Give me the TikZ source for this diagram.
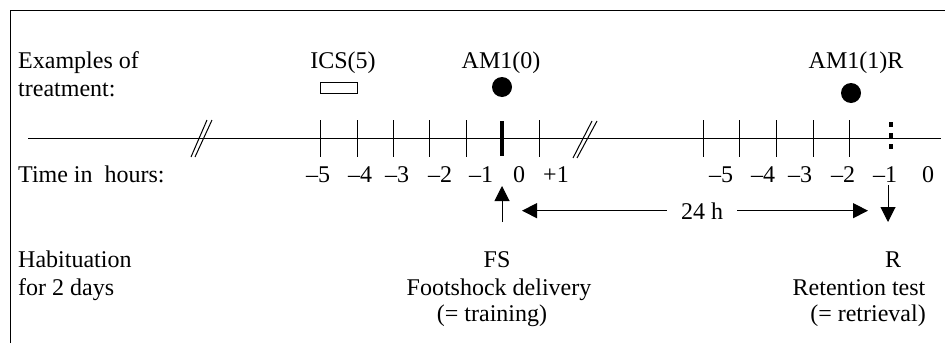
\documentclass[tikz,border=0pt]{standalone}
\usepackage{fontspec}
\setmainfont{Liberation Serif}
\usetikzlibrary{arrows.meta}
\begin{document}
\begin{tikzpicture}[x=1pt,y=-1pt,
  lbl/.style={font=\fontsize{24}{28}\selectfont, inner sep=0pt, anchor=base},
  lbll/.style={lbl, anchor=base west},
  thin/.style={line width=1pt},
  arr/.style={line width=1pt, -{Triangle[length=15pt,width=15pt]}},
  dot/.style={circle, fill=black, inner sep=0pt, minimum size=20pt},
  boxmark/.style={draw, line width=1pt, inner sep=0pt, minimum width=37pt, minimum height=11pt}
]
\useasboundingbox (0,0) rectangle (945,343);
% frame
\draw[thin] (10,343) -- (10,10) -- (945,10);

% left labels
\node[lbll] (ex1) at (18,68) {Examples of};
\node[lbll] (ex2) at (18,96) {treatment:};
\node[lbll] (time) at (18,182) {Time in~ hours:};
\node[lbll] (hab1) at (18,267) {Habituation};
\node[lbll] (hab2) at (18,295) {for 2 days};

% treatments
\node[lbl] (ics) at (343,68) {ICS(5)};
\node[boxmark] (icsbox) at (338.5,88) {};
\node[lbl] (am0) at (501,68) {AM1(0)};
\node[dot] (am0dot) at (502,87) {};
\node[lbl] (am1) at (856,68) {AM1(1)R};
\node[dot] (am1dot) at (851,93) {};

% axis
\coordinate (axl) at (28,138);
\coordinate (axr) at (941,138);
\draw[thin] (axl) -- (axr);
\foreach \x in {320,357,393,429,466,539,703,739,776,813,849}
  \draw[thin] (\x,120) -- (\x,157);
\draw[line width=4.5pt] (502,121) -- (502,156);
\draw[line width=4.5pt, dash pattern=on 5pt off 6pt] (891,122) -- (891,151);
% breaks
\draw[thin] (207,120) -- (191,157);
\draw[thin] (212,120) -- (195,157);
\draw[thin] (592,121) -- (573,158);
\draw[thin] (597,121) -- (577,158);

% tick labels
\foreach \x/\t in {318/{–5},360/{–4},397/{–3},440/{–2},481/{–1},519/{0},556/{+1},
                   721/{–5},763/{–4},800/{–3},843/{–2},885/{–1},928/{0}}
  \node[lbl] at (\x,182) {\t};

% arrows
\coordinate (fsb) at (502,222);
\coordinate (fst) at (502,186);
\draw[arr] (fsb) -- (fst);
\coordinate (rt) at (888,185);
\coordinate (rb) at (888,222);
\draw[arr] (rt) -- (rb);
\node[lbl, inner xsep=14pt] (h24) at (702,219) {24 h};
\coordinate (dl) at (522,0);
\coordinate (dr) at (868,0);
\draw[arr] (h24.west) -- (h24.west -| dl);
\draw[arr] (h24.east) -- (h24.east -| dr);

% bottom labels
\node[lbl] (fs) at (497,267) {FS};
\node[lbl] (fs2) at (499,295) {Footshock delivery};
\node[lbl] (fs3) at (492,321) {(= training)};
\node[lbl] (r) at (893,267) {R};
\node[lbl] (r2) at (859,295) {Retention test};
\node[lbl] (r3) at (868,321) {(= retrieval)};
\end{tikzpicture}
\end{document}
